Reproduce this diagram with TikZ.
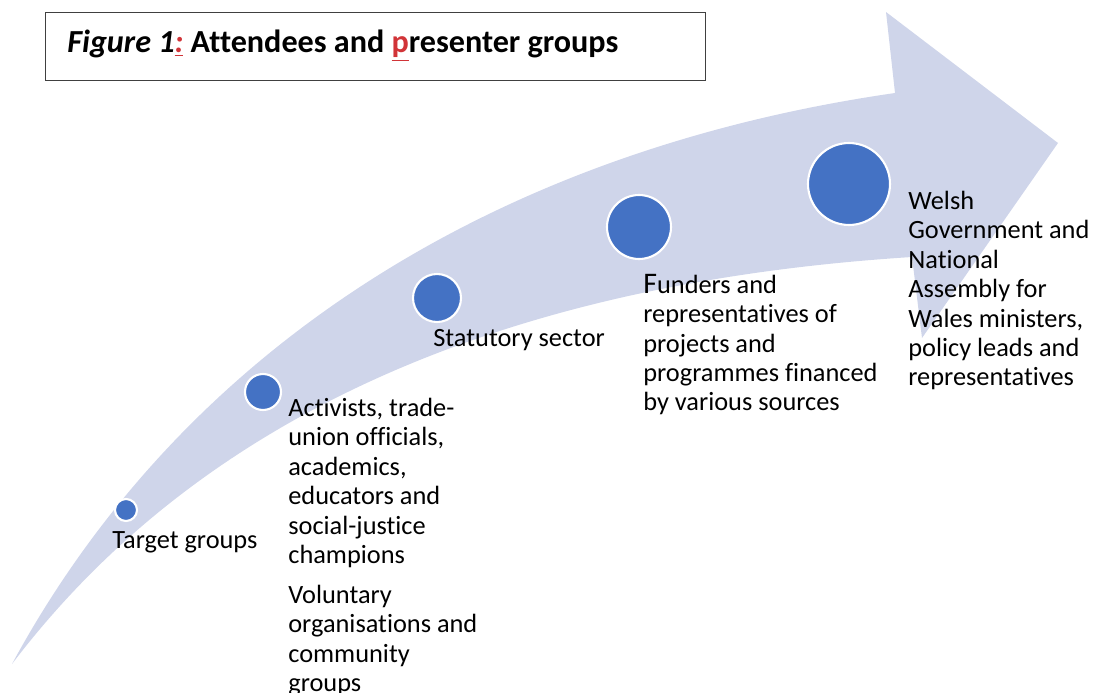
\documentclass[tikz,border=0pt]{standalone}
\usepackage{fontspec}
\setmainfont{Carlito}[Ligatures=NoCommon]
\usepackage{tikz}
\usetikzlibrary{shapes}
\definecolor{arrow_blue}{RGB}{207, 213, 234}
\definecolor{dot_blue}{RGB}{68, 114, 196}
\definecolor{note_red}{RGB}{209, 52, 56}
\tikzstyle{dot}=[circle,fill=dot_blue,draw=white,line width=1.2pt,inner sep=0pt]
\tikzstyle{lbl}=[anchor=north west,align=left,inner sep=0pt,
  font=\fontsize{15}{16.7}\selectfont]
\newcommand{\redmark}[1]{\textcolor{note_red}{\underline{#1}}}

\begin{document}
\begin{tikzpicture}[x=0.02cm,y=-0.02cm]
    \useasboundingbox (0,0) rectangle (1096,693);
    \fill[arrow_blue] (12,664) .. controls (185,345) and (500,150) .. (895,93)
      -- (886,12) -- (1058,143) -- (922,338) -- (912,257)
      .. controls (550,280) and (220,390) .. (12,664) -- cycle;
    \node [draw=black!75,line width=0.6pt,minimum width=13.2cm,minimum height=1.36cm,
      anchor=north west] (titlebox) at (45,12) {};
    \node [anchor=west,inner sep=0pt,font=\fontsize{18.3}{21}\selectfont\bfseries] (title)
      at (67,46) {\textit{Figure 1}\textit{\redmark{:}} Attendees and \redmark{p}resenter groups};
    \node [style=dot,minimum size=0.44cm] (target) at (126,510) {};
    \node [style=dot,minimum size=0.72cm] (activists) at (263,392) {};
    \node [style=dot,minimum size=0.96cm] (statutory) at (437,298) {};
    \node [style=dot,minimum size=1.28cm] (funders) at (639,227) {};
    \node [style=dot,minimum size=1.64cm] (welsh) at (849,184) {};
    \node [style=lbl] (targetl) at (112,531) {Target groups};
    \node [style=lbl] (activistsl) at (288,398) {Activists, trade-\\union officials,\\academics,\\educators and\\social-justice\\champions};
    \node [style=lbl] (voluntaryl) at (288,585) {Voluntary\\organisations and\\community\\groups};
    \node [style=lbl] (statutoryl) at (433,329) {Statutory sector};
    \node [style=lbl] (fundersl) at (643,274) {{\fontsize{17}{16.7}\selectfont F}unders and\\representatives of\\projects and\\programmes financed\\by various sources};
    \node [style=lbl] (welshl) at (908,191) {Welsh\\Government and\\National\\Assembly for\\Wales ministers,\\policy leads and\\representatives};
  \end{tikzpicture}
\end{document}
